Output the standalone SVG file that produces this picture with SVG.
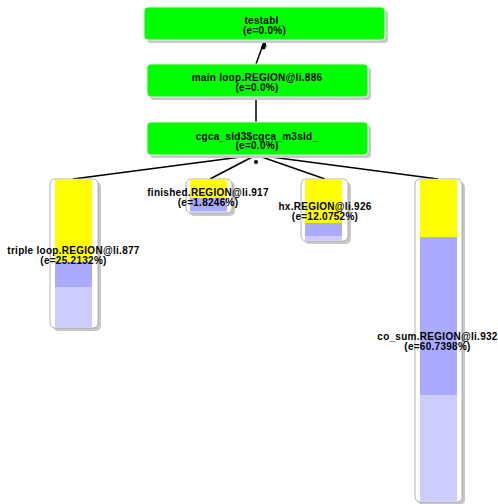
<svg xmlns="http://www.w3.org/2000/svg" width="498" height="504" viewBox="0 0 498 504">
<style>
.sh{fill:#c8c8c8}
.g{fill:#00ff00;stroke:#e8e8e8;stroke-width:1}
.box{fill:#ffffff;stroke:#a0a0a0;stroke-width:0.8}
.y{fill:#ffff00}
.b{fill:#aaaaff}
.l{fill:#ccccff}
text{font-family:"Liberation Sans",Arial,sans-serif;font-size:10px;letter-spacing:0.28px;font-weight:bold;fill:#000;text-anchor:middle}
.e{stroke:#000;stroke-width:1.5;fill:none}
</style>
<rect width="498" height="504" fill="#ffffff"/>
<g id="connectors">
<line class="e" x1="256" y1="64" x2="264" y2="42"/>
<polygon points="265,39 261.5,46 266.5,47" fill="#000"/>
<circle cx="263.5" cy="47.5" r="2" fill="#000"/>
<line class="e" x1="256" y1="97" x2="256" y2="122"/>
<line class="e" x1="256" y1="155" x2="73" y2="179"/>
<line class="e" x1="256" y1="155" x2="210" y2="179"/>
<line class="e" x1="256" y1="155" x2="325" y2="179"/>
<line class="e" x1="256" y1="155" x2="438" y2="179"/>
<circle cx="256" cy="162" r="2" fill="#000"/>
</g>
<g id="testabl">
<rect class="sh" x="147" y="10" width="241" height="33" rx="4"/>
<rect class="g" x="144" y="7" width="241" height="33" rx="4"/>
<text x="264.5" y="24">testabl_</text>
<text x="264.5" y="34">(e=0.0%)</text>
</g>
<g id="mainloop">
<rect class="sh" x="150" y="67" width="221" height="33" rx="4"/>
<rect class="g" x="147" y="64" width="221" height="33" rx="4"/>
<text x="257" y="81">main loop.REGION@li.886</text>
<text x="257" y="91">(e=0.0%)</text>
</g>
<g id="cgca">
<rect class="sh" x="150" y="125" width="221" height="33" rx="4"/>
<rect class="g" x="147" y="122" width="221" height="33" rx="4"/>
<text x="257" y="139.5">cgca_sld3$cgca_m3sld_</text>
<text x="257" y="149">(e=0.0%)</text>
</g>
<g id="triple">
<rect class="sh" x="53" y="182" width="48" height="149" rx="5"/>
<rect class="box" x="50" y="179" width="48" height="149" rx="5"/>
<rect class="y" x="55" y="179.5" width="37" height="83"/>
<rect class="b" x="55" y="262" width="37" height="25"/>
<rect class="l" x="55" y="287" width="37" height="40.5"/>
<text x="73.5" y="253.5">triple loop.REGION@li.877</text>
<text x="73.5" y="263.5">(e=25.2132%)</text>
</g>
<g id="finished">
<rect class="sh" x="189" y="182" width="46" height="34" rx="5"/>
<rect class="box" x="186" y="179" width="46" height="34" rx="5"/>
<rect class="y" x="190" y="179.5" width="37" height="18.5"/>
<rect class="b" x="190" y="198" width="37" height="13"/>
<rect class="l" x="190" y="211" width="37" height="1.5"/>
<text x="208" y="196">finished.REGION@li.917</text>
<text x="208" y="206">(e=1.8246%)</text>
</g>
<g id="hx">
<rect class="sh" x="304" y="182" width="47" height="62" rx="5"/>
<rect class="box" x="301" y="179" width="47" height="62" rx="5"/>
<rect class="y" x="305" y="179.5" width="37" height="43.5"/>
<rect class="b" x="305" y="223" width="37" height="13"/>
<rect class="l" x="305" y="236" width="37" height="4.5"/>
<text x="325" y="210">hx.REGION@li.926</text>
<text x="325" y="219.5">(e=12.0752%)</text>
</g>
<g id="cosum">
<rect class="sh" x="418" y="182" width="47" height="323" rx="5"/>
<rect class="box" x="415" y="179" width="47" height="323" rx="5"/>
<rect class="y" x="420" y="179.5" width="37" height="57.5"/>
<rect class="b" x="420" y="237" width="37" height="158"/>
<rect class="l" x="420" y="395" width="37" height="106.5"/>
<text x="437.5" y="340">co_sum.REGION@li.932</text>
<text x="437.5" y="349.5">(e=60.7398%)</text>
</g>
</svg>
